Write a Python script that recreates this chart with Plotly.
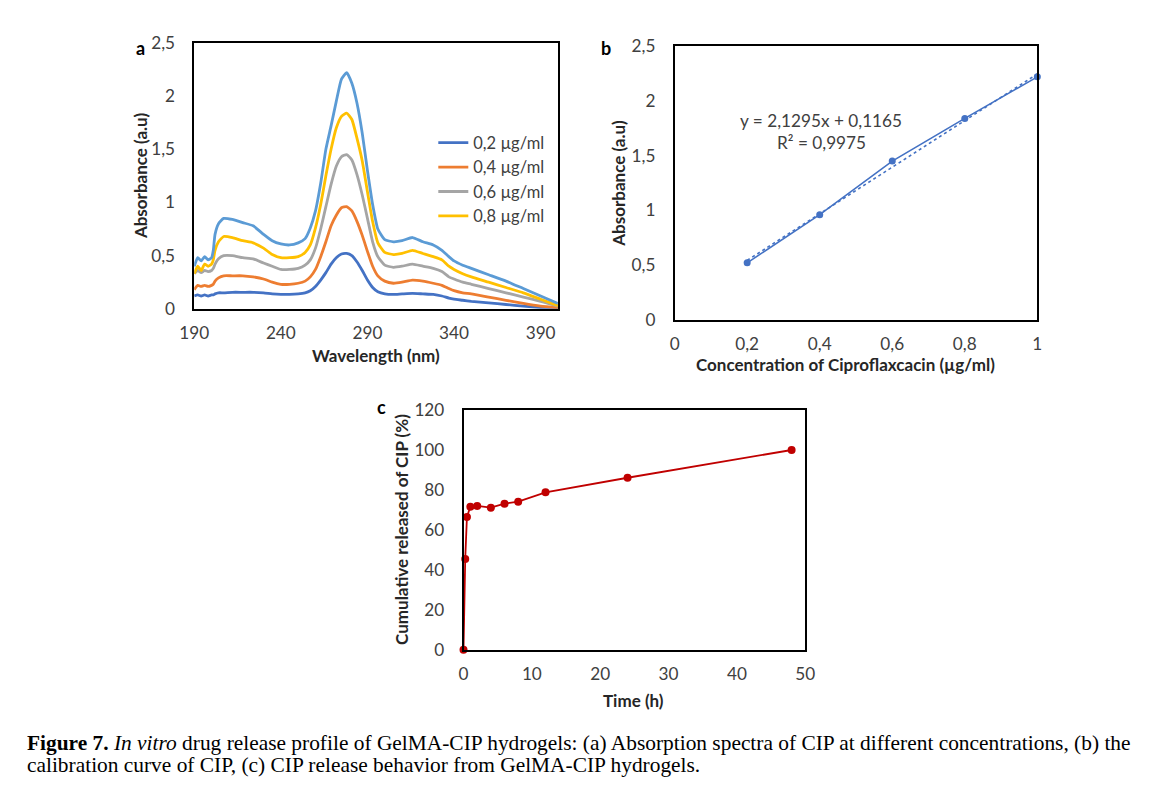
import plotly.graph_objects as go

# page body has an 8px default margin; keep the figure inside the 1168x798 window
OFF = 8
W, H = 1168 - 2 * OFF, 798 - 2 * OFF
# measured page->picture mapping of the photographed page
SX, AX = 0.981, 4.7
SY, AY = 0.980, 0.0

# ---------------- Panel a: absorption spectra ----------------
wavelength = [190, 192, 194, 196, 198, 200, 201, 202, 204, 207, 212, 218, 224, 230, 235, 240, 245, 250,
              254, 257, 260, 263, 266, 269, 272, 275, 278, 281, 284, 287, 290, 293, 296, 300, 305, 310,
              316, 322, 328, 333, 337, 340, 345, 350, 360, 370, 380, 390, 400]

abs_02 = [0.12, 0.13, 0.12, 0.13, 0.12, 0.13, 0.13, 0.14, 0.15, 0.15, 0.155, 0.155, 0.155, 0.15, 0.14, 0.135,
          0.135, 0.14, 0.15, 0.17, 0.21, 0.27, 0.34, 0.42, 0.48, 0.515, 0.52, 0.50, 0.44, 0.36, 0.27, 0.20,
          0.16, 0.14, 0.135, 0.14, 0.145, 0.14, 0.135, 0.12, 0.10, 0.09, 0.08, 0.07, 0.055, 0.04, 0.025,
          0.012, 0.005]
abs_04 = [0.18, 0.22, 0.21, 0.22, 0.21, 0.22, 0.23, 0.26, 0.29, 0.31, 0.31, 0.31, 0.30, 0.28, 0.25, 0.23,
          0.23, 0.24, 0.26, 0.30, 0.37, 0.49, 0.63, 0.78, 0.88, 0.95, 0.96, 0.92, 0.82, 0.69, 0.54, 0.40,
          0.31, 0.26, 0.24, 0.25, 0.27, 0.26, 0.24, 0.22, 0.19, 0.17, 0.15, 0.14, 0.11, 0.08, 0.05, 0.025,
          0.01]
abs_06 = [0.33, 0.36, 0.34, 0.36, 0.35, 0.36, 0.38, 0.42, 0.47, 0.50, 0.50, 0.48, 0.47, 0.43, 0.40, 0.37,
          0.37, 0.38, 0.41, 0.46, 0.57, 0.75, 0.96, 1.17, 1.34, 1.43, 1.45, 1.40, 1.26, 1.07, 0.85, 0.63,
          0.49, 0.41, 0.39, 0.40, 0.42, 0.40, 0.38, 0.35, 0.30, 0.28, 0.25, 0.23, 0.19, 0.15, 0.11, 0.07,
          0.025]
abs_08 = [0.33, 0.40, 0.36, 0.42, 0.40, 0.42, 0.46, 0.55, 0.63, 0.68, 0.67, 0.64, 0.62, 0.57, 0.51, 0.48,
          0.48, 0.49, 0.53, 0.60, 0.76, 0.98, 1.25, 1.50, 1.70, 1.81, 1.84, 1.78, 1.60, 1.39, 1.10, 0.82,
          0.62, 0.53, 0.51, 0.52, 0.55, 0.52, 0.49, 0.46, 0.40, 0.37, 0.33, 0.30, 0.25, 0.20, 0.15, 0.09,
          0.03]
abs_10 = [0.40, 0.48, 0.45, 0.49, 0.46, 0.48, 0.55, 0.70, 0.80, 0.85, 0.84, 0.81, 0.78, 0.70, 0.64, 0.61,
          0.60, 0.62, 0.66, 0.76, 0.92, 1.18, 1.50, 1.72, 1.95, 2.16, 2.22, 2.12, 1.93, 1.65, 1.30, 0.98,
          0.75, 0.65, 0.63, 0.64, 0.67, 0.63, 0.60, 0.55, 0.49, 0.45, 0.41, 0.38, 0.32, 0.26, 0.19, 0.12,
          0.05]

spectra_names = ["0,2 µg/ml", "0,4 µg/ml", "0,6 µg/ml", "0,8 µg/ml", "1 µg/ml"]
spectra_values = [abs_02, abs_04, abs_06, abs_08, abs_10]
spectra_colors = ["#4472C4", "#ED7D31", "#A5A5A5", "#FFC000", "#5B9BD5"]
spectra_in_legend = [True, True, True, True, False]

# ---------------- Panel b: calibration curve ----------------
conc = [0.2, 0.4, 0.6, 0.8, 1.0]
absorb = [0.52, 0.96, 1.45, 1.84, 2.22]
fit_slope, fit_intercept = 2.1295, 0.1165
fit_x = [0.2, 1.0]

# ---------------- Panel c: release profile ----------------
time_h = [0, 0.25, 0.5, 1, 2, 4, 6, 8, 12, 24, 48]
released = [0, 45.4, 66.5, 71.6, 72.0, 71.1, 73.1, 74.1, 78.8, 86.1, 100]

FONT = "Lato"
TICK_COLOR = "#404040"
TITLE_COLOR = "#262626"
TS = 17.2      # tick labels
LS = 16.5      # legend
AS = 17        # axis titles

fig = go.Figure()

for name, vals, col, leg in zip(spectra_names, spectra_values, spectra_colors, spectra_in_legend):
    fig.add_trace(go.Scatter(x=wavelength, y=vals, mode="lines", name=name, showlegend=leg,
                             line=dict(color=col, width=2.8, shape="spline", smoothing=0.5),
                             xaxis="x", yaxis="y"))

fig.add_trace(go.Scatter(x=fit_x, y=[fit_slope * v + fit_intercept for v in fit_x], mode="lines",
                         showlegend=False, line=dict(color="#4472C4", width=1.6, dash="dot"),
                         cliponaxis=False, xaxis="x2", yaxis="y2"))
fig.add_trace(go.Scatter(x=conc, y=absorb, mode="lines+markers", showlegend=False,
                         line=dict(color="#4472C4", width=1.6), marker=dict(size=7, color="#4472C4"),
                         cliponaxis=False, xaxis="x2", yaxis="y2"))

fig.add_trace(go.Scatter(x=time_h, y=released, mode="lines+markers", showlegend=False,
                         line=dict(color="#C00000", width=1.8), marker=dict(size=8, color="#C00000"),
                         cliponaxis=False, xaxis="x3", yaxis="y3"))

def px(x):
    return ((x - AX) / SX - OFF) / W

def py(y):
    return 1 - ((y - AY) / SY - OFF) / H

axis_common = dict(showline=True, linecolor="black", linewidth=1.5, mirror=True, showgrid=False,
                   zeroline=False, ticks="", tickfont=dict(family=FONT, size=TS, color=TICK_COLOR))

fig.update_layout(
    width=W, height=H, margin=dict(l=0, r=0, t=0, b=0),
    paper_bgcolor="white", plot_bgcolor="white",
    separators=", ",
    font=dict(family=FONT, size=TS, color=TITLE_COLOR),
    xaxis=dict(domain=[px(192.3), px(557)], range=[190, 400], tickvals=[190, 240, 290, 340, 390],
               anchor="y", ticklabelstandoff=8, **axis_common),
    yaxis=dict(domain=[py(307.7), py(40)], range=[0, 2.5], dtick=0.5, anchor="x",
               ticklabelstandoff=14, **axis_common),
    xaxis2=dict(domain=[px(674), px(1037.7)], range=[0, 1], dtick=0.2, anchor="y2",
                ticklabelstandoff=8, **axis_common),
    yaxis2=dict(domain=[py(318.7), py(43.3)], range=[0, 2.5], dtick=0.5, anchor="x2",
                ticklabelstandoff=14, **axis_common),
    xaxis3=dict(domain=[px(462.3), px(805)], range=[0, 50], dtick=10, anchor="y3",
                ticklabelstandoff=8, **axis_common),
    yaxis3=dict(domain=[py(651), py(409.7)], range=[0, 120], dtick=20, anchor="x3",
                ticklabelstandoff=14, **axis_common),
    legend=dict(x=px(432), y=py(123), xanchor="left", yanchor="top", bgcolor="rgba(0,0,0,0)",
                font=dict(family=FONT, size=LS, color=TICK_COLOR), tracegroupgap=0,
                itemwidth=30),
)

annots = [
    # panel letters
    dict(x=px(138), y=py(45), text="<b>a</b>", font=dict(size=18, color="black")),
    dict(x=px(605), y=py(45), text="<b>b</b>", font=dict(size=18, color="black")),
    dict(x=px(380), y=py(407), text="<b>c</b>", font=dict(size=18, color="black")),
    # axis titles
    dict(x=px(139), y=py(174), text="<b>Absorbance (a.u)</b>", textangle=-90),
    dict(x=px(375), y=py(355), text="<b>Wavelength (nm)</b>"),
    dict(x=px(618), y=py(181), text="<b>Absorbance (a.u)</b>", textangle=-90),
    dict(x=px(845), y=py(364), text="<b>Concentration of Ciproflaxcacin (µg/ml)</b>"),
    dict(x=px(400), y=py(530), text="<b>Cumulative released of CIP (%)</b>", textangle=-90),
    dict(x=px(633), y=py(702), text="<b>Time (h)</b>"),
    # equation
    dict(x=px(821), y=py(118), text="y = 2,1295x + 0,1165", font=dict(color=TICK_COLOR, size=TS)),
    dict(x=px(821), y=py(140), text="R² = 0,9975", font=dict(color=TICK_COLOR, size=TS)),
]
for a in annots:
    a.setdefault("font", dict(size=AS, color=TITLE_COLOR))
    a["font"].setdefault("family", FONT)
    fig.add_annotation(xref="paper", yref="paper", showarrow=False, xanchor="center", yanchor="middle", **a)

CAP_FONT = dict(family="Liberation Serif", size=21.4, color="black")
fig.add_annotation(xref="paper", yref="paper", x=px(24), y=py(745), xanchor="left", yanchor="middle",
                   showarrow=False, align="left", font=CAP_FONT, borderpad=0,
                   text="<b>Figure 7.</b> <i>In vitro</i> drug release profile of GelMA-CIP hydrogels: (a) Absorption spectra of CIP at different concentrations, (b) the")
fig.add_annotation(xref="paper", yref="paper", x=px(24), y=py(767), xanchor="left", yanchor="middle",
                   showarrow=False, align="left", font=CAP_FONT, borderpad=0,
                   text="calibration curve of CIP, (c) CIP release behavior from GelMA-CIP hydrogels.")

fig.write_html("out.html")
